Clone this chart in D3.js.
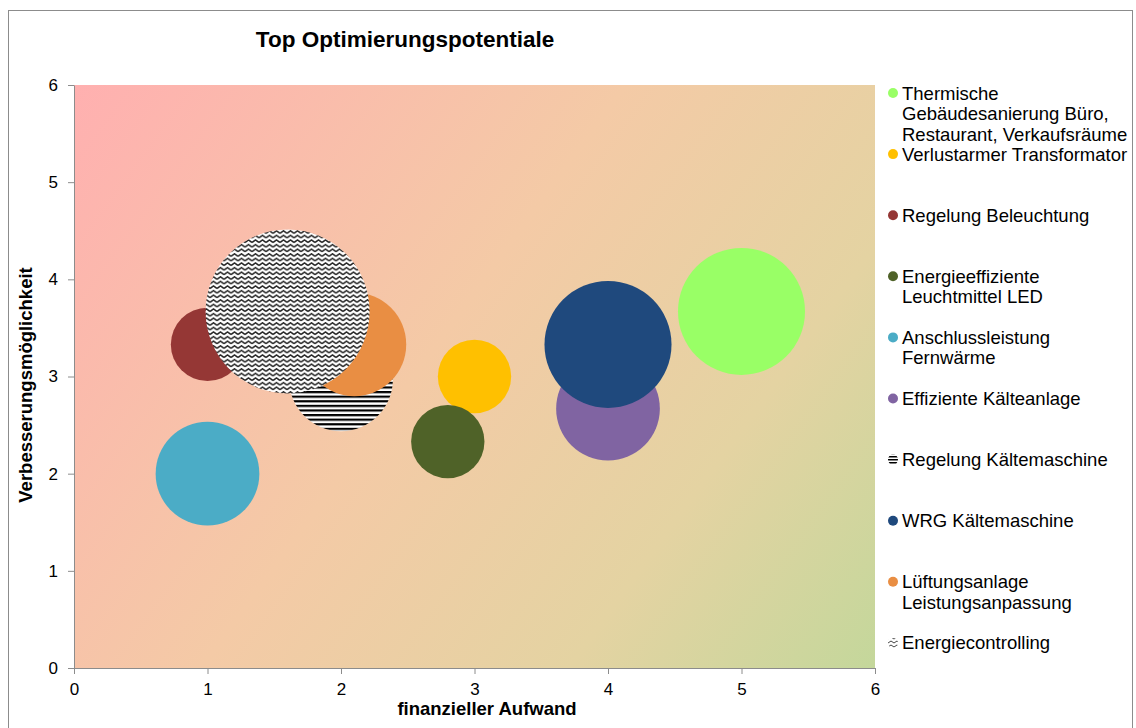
<!DOCTYPE html>
<html><head><meta charset="utf-8">
<script src="https://cdn.jsdelivr.net/npm/d3@7"></script>
<style>body{margin:0;background:#fff;}svg{display:block;font-family:"Liberation Sans",Arial,sans-serif;}</style>
</head><body>
<svg id="c" width="1136" height="728"></svg>
<script>
const names = ["Thermische Gebäudesanierung Büro, Restaurant, Verkaufsräume","Verlustarmer Transformator","Regelung Beleuchtung","Energieeffiziente Leuchtmittel LED","Anschlussleistung Fernwärme","Effiziente Kälteanlage","Regelung Kältemaschine","WRG Kältemaschine","Lüftungsanlage Leistungsanpassung","Energiecontrolling"];
const legendLines = [["Thermische","Gebäudesanierung Büro,","Restaurant, Verkaufsräume"],["Verlustarmer Transformator"],["Regelung Beleuchtung"],["Energieeffiziente","Leuchtmittel LED"],["Anschlussleistung","Fernwärme"],["Effiziente Kälteanlage"],["Regelung Kältemaschine"],["WRG Kältemaschine"],["Lüftungsanlage","Leistungsanpassung"],["Energiecontrolling"]];
const xValues = [5, 3, 1, 2.8, 1, 4, 2, 4, 2.1, 1.6];
const yValues = [3.67, 3, 3.33, 2.33, 2, 2.67, 2.97, 3.33, 3.33, 3.67];
const sizes = [3, 1, 1, 1, 2, 2, 2, 3, 2, 5];
const fills = ["#99ff66","#ffc000","#953735","#4f6228","#4bacc6","#8064a2","url(#hstripe)","#1f497d","#e98e43","url(#zigzag)"];
const legendFills = ["#99ff66","#ffc000","#953735","#4f6228","#4bacc6","#8064a2","url(#hstripeS)","#1f497d","#e98e43","url(#zigzagS)"];
const ticks = [0,1,2,3,4,5,6];
const title = "Top Optimierungspotentiale";
const xTitle = "finanzieller Aufwand";
const yTitle = "Verbesserungsmöglichkeit";

const svg = d3.select("#c");
const L = 74, R = 875, T = 85, B = 668;
const x = d3.scaleLinear().domain([0,6]).range([L,R]);
const y = d3.scaleLinear().domain([0,6]).range([B,T]);
const r = d3.scaleSqrt().domain([0,5]).range([0,82]);

const defs = svg.append("defs");
const g = defs.append("linearGradient").attr("id","bg").attr("gradientUnits","userSpaceOnUse")
  .attr("x1",L).attr("y1",T).attr("x2",R).attr("y2",B);
g.append("stop").attr("offset","0").attr("stop-color","#ffb0b0");
g.append("stop").attr("offset","0.45").attr("stop-color","#f4caa6");
g.append("stop").attr("offset","0.75").attr("stop-color","#e4d3a2");
g.append("stop").attr("offset","1").attr("stop-color","#c4d79b");

const hp = defs.append("pattern").attr("id","hstripe").attr("patternUnits","userSpaceOnUse").attr("width",8).attr("height",4.6);
hp.append("rect").attr("width",8).attr("height",4.6).attr("fill","#fff");
hp.append("rect").attr("width",8).attr("height",2.2).attr("fill","#000");
const hps = defs.append("pattern").attr("id","hstripeS").attr("patternUnits","userSpaceOnUse").attr("width",8).attr("height",3);
hps.append("rect").attr("width",8).attr("height",3).attr("fill","#fff");
hps.append("rect").attr("width",8).attr("height",1.5).attr("fill","#000");

const zp = defs.append("pattern").attr("id","zigzag").attr("patternUnits","userSpaceOnUse").attr("width",7).attr("height",4.6);
zp.append("rect").attr("width",7).attr("height",4.6).attr("fill","#fff");
zp.append("path").attr("d","M0,3.2 L3.5,0.8 L7,3.2 M0,7.8 L3.5,5.4 L7,7.8 M0,-1.4 L3.5,-3.8 L7,-1.4").attr("stroke","#222").attr("stroke-width",1.5).attr("fill","none");
const zps = defs.append("pattern").attr("id","zigzagS").attr("patternUnits","userSpaceOnUse").attr("width",6).attr("height",4);
zps.append("rect").attr("width",6).attr("height",4).attr("fill","#fff");
zps.append("path").attr("d","M0,3 L3,1 L6,3").attr("stroke","#444").attr("stroke-width",1).attr("fill","none");

// outer frame
svg.append("rect").attr("x",8.5).attr("y",10.5).attr("width",1124).attr("height",730).attr("fill","none").attr("stroke","#8c8c8c");

// plot background
svg.append("rect").attr("x",L).attr("y",T).attr("width",R-L).attr("height",B-T).attr("fill","url(#bg)");

// bubbles
const data = names.map((n,i)=>({n, x:xValues[i], y:yValues[i], s:sizes[i], f:fills[i]}));
svg.append("g").selectAll("circle").data(data).join("circle")
  .attr("cx",d=>x(d.x)).attr("cy",d=>y(d.y)).attr("r",d=>r(d.s)).attr("fill",d=>d.f);

// axes
const fmt = d3.format("d");
const xa = svg.append("g").attr("transform",`translate(0,${B})`).call(d3.axisBottom(x).tickValues(ticks).tickFormat(fmt).tickSize(6).tickSizeOuter(0).tickPadding(9));
const ya = svg.append("g").attr("transform",`translate(${L},0)`).call(d3.axisLeft(y).tickValues(ticks).tickFormat(fmt).tickSize(6).tickSizeOuter(0).tickPadding(10));
[xa,ya].forEach(a=>{
  a.selectAll("path,line").attr("stroke","#8c8c8c");
  a.selectAll("text").attr("font-size",17).attr("fill","#000").attr("font-family","Liberation Sans, Arial, sans-serif");
});

// titles
svg.append("text").attr("x",405).attr("y",47).attr("text-anchor","middle").attr("font-size",22.5).attr("font-weight","bold").text(title);
svg.append("text").attr("x",487).attr("y",715).attr("text-anchor","middle").attr("font-size",18.5).attr("font-weight","bold").text(xTitle);
svg.append("text").attr("transform","translate(32,385) rotate(-90)").attr("text-anchor","middle").attr("font-size",18.5).attr("font-weight","bold").text(yTitle);

// legend
const lg = svg.append("g");
legendLines.forEach((lines,i)=>{
  const y0 = 93 + i*61.1;
  lg.append("circle").attr("cx",893).attr("cy",y0).attr("r",5).attr("fill",legendFills[i]);
  const t = lg.append("text").attr("x",902).attr("y",y0+6.5).attr("font-size",18.5);
  lines.forEach((ln,j)=>t.append("tspan").attr("x",902).attr("dy",j===0?0:20.5).text(ln));
});
</script>
</body></html>
